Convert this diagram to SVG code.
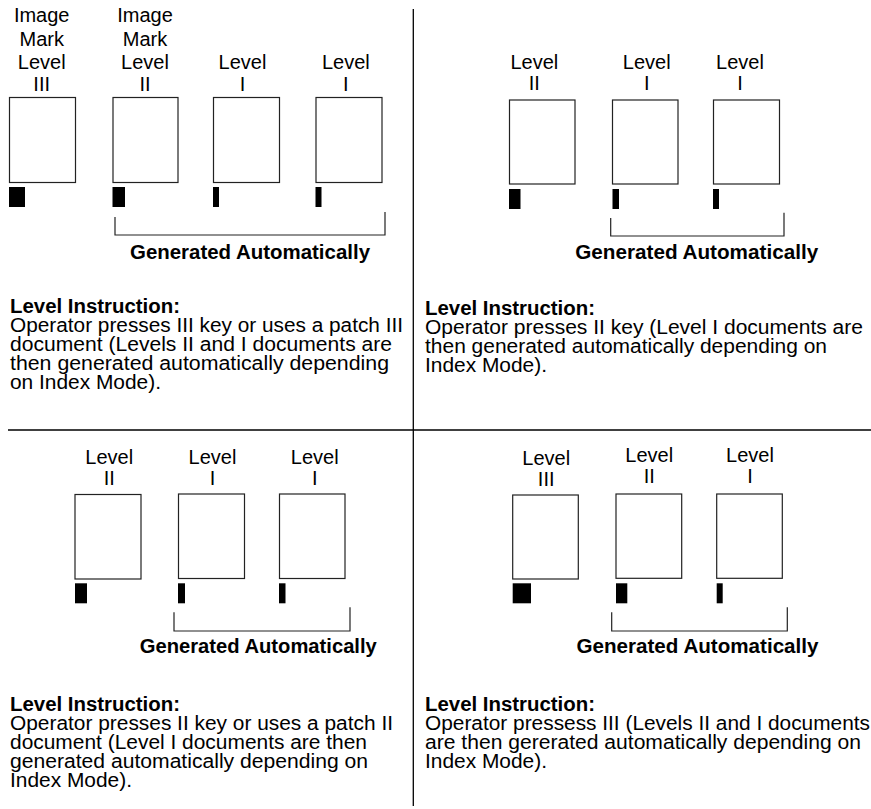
<svg xmlns="http://www.w3.org/2000/svg" width="871" height="809" viewBox="0 0 871 809">
<style>
.doc{fill:#fff;stroke:#222;stroke-width:1.2}
.mark{fill:#000}
.lbl{font-family:"Liberation Sans",Arial,Helvetica,sans-serif;font-size:20px;text-anchor:middle;fill:#000}
.txt{font-family:"Liberation Sans",Arial,Helvetica,sans-serif;font-size:20px;fill:#000}
.b{font-weight:bold}
.gen{font-family:"Liberation Sans",Arial,Helvetica,sans-serif;font-size:20px;font-weight:bold;text-anchor:middle;fill:#000}
.div{stroke:#000;stroke-width:1.3;fill:none}
.brk{stroke:#222;stroke-width:1.2;fill:none}
</style>
<rect width="871" height="809" fill="#fff"/>
<g id="dividers">
<path class="div" d="M413.3,9 V806"/>
<path class="div" d="M8,430 H871"/>
</g>

<g id="panel-top-left">
<g id="tl-doc1">
<text class="lbl" x="41.7" y="22">Image</text>
<text class="lbl" x="41.7" y="45.5">Mark</text>
<text class="lbl" x="41.7" y="68.5">Level</text>
<text class="lbl" x="41.7" y="90.5">III</text>
<rect class="doc" x="9.5" y="97.5" width="66" height="85"/>
<rect class="mark" x="9" y="187" width="16" height="20"/>
</g>
<g id="tl-doc2">
<text class="lbl" x="145" y="22">Image</text>
<text class="lbl" x="145" y="45.5">Mark</text>
<text class="lbl" x="145" y="68.5">Level</text>
<text class="lbl" x="145" y="90.5">II</text>
<rect class="doc" x="113" y="97.5" width="65" height="85"/>
<rect class="mark" x="112.5" y="187" width="12.5" height="20"/>
</g>
<g id="tl-doc3">
<text class="lbl" x="242.5" y="68.5">Level</text>
<text class="lbl" x="242.5" y="90.5">I</text>
<rect class="doc" x="213.5" y="97.5" width="66" height="85"/>
<rect class="mark" x="213" y="187" width="6" height="20"/>
</g>
<g id="tl-doc4">
<text class="lbl" x="345.8" y="68.5">Level</text>
<text class="lbl" x="345.8" y="90.5">I</text>
<rect class="doc" x="316" y="97.5" width="66" height="85"/>
<rect class="mark" x="315.5" y="187" width="6" height="20"/>
</g>
<g id="tl-generated">
<text class="gen" x="250" y="259" textLength="240" lengthAdjust="spacingAndGlyphs">Generated Automatically</text>
</g>
<g id="tl-instruction">
<text class="txt b" x="10" y="313" textLength="170" lengthAdjust="spacingAndGlyphs">Level Instruction:</text>
<text class="txt" x="10" y="332" textLength="393" lengthAdjust="spacingAndGlyphs">Operator presses III key or uses a patch III</text>
<text class="txt" x="10" y="351" textLength="382" lengthAdjust="spacingAndGlyphs">document (Levels II and I documents are</text>
<text class="txt" x="10" y="370" textLength="379" lengthAdjust="spacingAndGlyphs">then generated automatically depending</text>
<text class="txt" x="10" y="389" textLength="151" lengthAdjust="spacingAndGlyphs">on Index Mode).</text>
</g>
</g>

<g id="panel-top-right">
<g id="tr-doc1">
<text class="lbl" x="534.3" y="69">Level</text>
<text class="lbl" x="534.3" y="90">II</text>
<rect class="doc" x="509.5" y="100" width="65.5" height="84"/>
<rect class="mark" x="509" y="189" width="11.5" height="20"/>
</g>
<g id="tr-doc2">
<text class="lbl" x="646.7" y="69">Level</text>
<text class="lbl" x="646.7" y="90">I</text>
<rect class="doc" x="612.5" y="100" width="65.5" height="84"/>
<rect class="mark" x="612.5" y="189" width="6.5" height="20"/>
</g>
<g id="tr-doc3">
<text class="lbl" x="740" y="69">Level</text>
<text class="lbl" x="740" y="90">I</text>
<rect class="doc" x="713.5" y="100" width="66" height="84"/>
<rect class="mark" x="713" y="189" width="6" height="20"/>
</g>
<g id="tr-generated">
<text class="gen" x="696.7" y="259" textLength="243" lengthAdjust="spacingAndGlyphs">Generated Automatically</text>
</g>
<g id="tr-instruction">
<text class="txt b" x="425" y="315" textLength="170" lengthAdjust="spacingAndGlyphs">Level Instruction:</text>
<text class="txt" x="425" y="334" textLength="438" lengthAdjust="spacingAndGlyphs">Operator presses II key (Level I documents are</text>
<text class="txt" x="425" y="353" textLength="402" lengthAdjust="spacingAndGlyphs">then generated automatically depending on</text>
<text class="txt" x="425" y="372" textLength="122" lengthAdjust="spacingAndGlyphs">Index Mode).</text>
</g>
</g>

<g id="panel-bottom-left">
<g id="bl-doc1">
<text class="lbl" x="109.2" y="464">Level</text>
<text class="lbl" x="109.2" y="484.5">II</text>
<rect class="doc" x="75" y="494.5" width="66" height="84.5"/>
<rect class="mark" x="75" y="583.3" width="12" height="20"/>
</g>
<g id="bl-doc2">
<text class="lbl" x="212.5" y="464">Level</text>
<text class="lbl" x="212.5" y="484.5">I</text>
<rect class="doc" x="178.5" y="494" width="66" height="84.5"/>
<rect class="mark" x="178" y="583.3" width="7" height="20"/>
</g>
<g id="bl-doc3">
<text class="lbl" x="314.7" y="464">Level</text>
<text class="lbl" x="314.7" y="484.5">I</text>
<rect class="doc" x="279.5" y="494" width="65.5" height="84.5"/>
<rect class="mark" x="279" y="583.3" width="6.5" height="20"/>
</g>
<g id="bl-generated">
<text class="gen" x="258.3" y="653.3" textLength="237" lengthAdjust="spacingAndGlyphs">Generated Automatically</text>
</g>
<g id="bl-instruction">
<text class="txt b" x="10" y="710.5" textLength="170" lengthAdjust="spacingAndGlyphs">Level Instruction:</text>
<text class="txt" x="10" y="729.5" textLength="383" lengthAdjust="spacingAndGlyphs">Operator presses II key or uses a patch II</text>
<text class="txt" x="10" y="748.5" textLength="357" lengthAdjust="spacingAndGlyphs">document (Level I documents are then</text>
<text class="txt" x="10" y="767.5" textLength="358" lengthAdjust="spacingAndGlyphs">generated automatically depending on</text>
<text class="txt" x="10" y="786.5" textLength="122" lengthAdjust="spacingAndGlyphs">Index Mode).</text>
</g>
</g>

<g id="panel-bottom-right">
<g id="br-doc1">
<text class="lbl" x="546.2" y="465">Level</text>
<text class="lbl" x="546.2" y="485.5">III</text>
<rect class="doc" x="512.7" y="495" width="65.6" height="84"/>
<rect class="mark" x="512.7" y="583.3" width="18.3" height="20"/>
</g>
<g id="br-doc2">
<text class="lbl" x="649.2" y="462">Level</text>
<text class="lbl" x="649.2" y="483">II</text>
<rect class="doc" x="616" y="494" width="65.7" height="84.3"/>
<rect class="mark" x="616" y="583.3" width="11.3" height="20"/>
</g>
<g id="br-doc3">
<text class="lbl" x="750" y="462">Level</text>
<text class="lbl" x="750" y="483">I</text>
<rect class="doc" x="716.7" y="494" width="65.6" height="84.3"/>
<rect class="mark" x="716.7" y="583.3" width="6" height="20"/>
</g>
<g id="br-generated">
<text class="gen" x="697.5" y="653.3" textLength="242" lengthAdjust="spacingAndGlyphs">Generated Automatically</text>
</g>
<g id="br-instruction">
<text class="txt b" x="425" y="710.5" textLength="170" lengthAdjust="spacingAndGlyphs">Level Instruction:</text>
<text class="txt" x="425" y="729.5" textLength="445" lengthAdjust="spacingAndGlyphs">Operator pressess III (Levels II and I documents</text>
<text class="txt" x="425" y="748.5" textLength="436" lengthAdjust="spacingAndGlyphs">are then gererated automatically depending on</text>
<text class="txt" x="425" y="767.5" textLength="122" lengthAdjust="spacingAndGlyphs">Index Mode).</text>
</g>
</g>

<g id="connectors">
<path class="brk" d="M115,217 V235 H385 V212"/>
<path class="brk" d="M610.7,218 V236 H784 V212.7"/>
<path class="brk" d="M174,612.3 V631 H350 V607.3"/>
<path class="brk" d="M611.7,612.3 V631 H787.3 V607.3"/>
</g>
</svg>
